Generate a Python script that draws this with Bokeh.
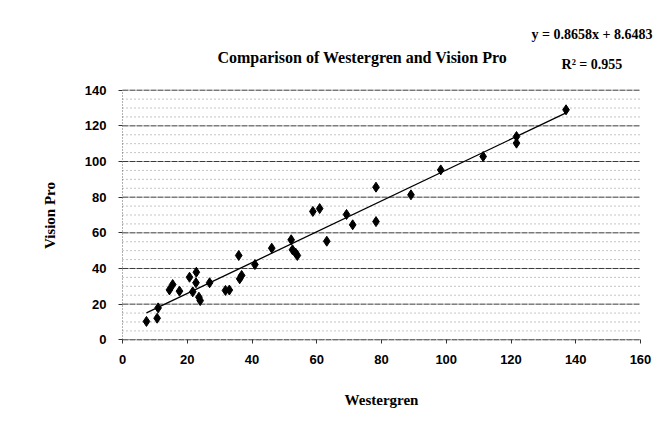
import math
from bokeh.plotting import figure
from bokeh.models import Label, Range1d, FixedTicker, ColumnDataSource
from bokeh.embed import file_html
from bokeh.resources import INLINE

# ---- data ----
westergren = [7.4, 10.7, 11.0, 14.5, 15.5, 17.6, 20.7, 22.8, 22.7, 21.7, 23.6, 24.0,
              26.9, 31.8, 33.0, 36.2, 36.8, 35.9, 40.9, 46.1, 52.1, 52.5, 53.5, 54.0,
              58.8, 60.9, 63.1, 69.2, 71.1, 78.3, 78.3, 89.1, 98.3, 111.4, 121.7,
              121.7, 137.0]
vision_pro = [10.3, 12.1, 17.9, 28.0, 31.0, 27.3, 35.1, 37.9, 32.0, 26.9, 23.9, 22.0,
              32.0, 27.7, 27.9, 34.2, 36.1, 47.3, 42.2, 51.4, 56.1, 50.5, 48.6, 47.3,
              72.0, 73.6, 55.3, 70.3, 64.5, 85.6, 66.3, 81.3, 95.3, 102.8, 114.0,
              110.3, 129.0]
slope = 0.8658
intercept = 8.6483
r_squared = 0.955
x_ticks = [0, 20, 40, 60, 80, 100, 120, 140, 160]
y_ticks = [0, 20, 40, 60, 80, 100, 120, 140]
y_minor = [v for v in range(0, 141, 5) if v % 20 != 0]

title_text = "Comparison of Westergren and Vision Pro"
x_label = "Westergren"
y_label = "Vision Pro"

SERIF = "Liberation Serif"
SANS = "Liberation Sans"

# ---- layout: the frame covers the whole canvas, axes sit at x=0 / y=0 ----
W, H = 656, 414
X0_PX, X160_PX = 122.0, 640.0          # where x=0 and x=160 fall
Y0_PX, Y140_PX = 339.3, 89.7           # where y=0 and y=140 fall
sx = (X160_PX - X0_PX) / 160.0
sy = (Y0_PX - Y140_PX) / 140.0

p = figure(width=W, height=H, output_backend="svg", toolbar_location=None,
           x_range=Range1d(-X0_PX / sx, (W - X0_PX) / sx),
           y_range=Range1d(-(H - Y0_PX) / sy, Y0_PX / sy),
           min_border_left=0, min_border_right=0, min_border_top=0,
           min_border_bottom=0)
p.outline_line_color = None
p.background_fill_color = "white"
p.border_fill_color = "white"
p.xgrid.visible = False
p.ygrid.visible = False

# axes
p.xaxis.ticker = FixedTicker(ticks=x_ticks)
p.yaxis.ticker = FixedTicker(ticks=y_ticks)
p.xaxis.fixed_location = 0
p.yaxis.fixed_location = 0
p.xaxis.bounds = (0, 160)
p.yaxis.bounds = (0, 140)
for ax in (p.xaxis[0], p.yaxis[0]):
    ax.major_label_text_font = SANS
    ax.major_label_text_font_style = "bold"
    ax.major_label_text_font_size = "13px"
    ax.major_label_text_color = "black"
    ax.major_tick_in = 0
    ax.major_tick_out = 4
    ax.minor_tick_in = 0
    ax.minor_tick_out = 0
    ax.major_tick_line_color = "#333333"
    ax.axis_line_color = "#666666"
    ax.axis_line_dash = "1 2"
p.xaxis.major_label_standoff = 11
p.yaxis.major_label_standoff = 12

# horizontal grid lines (major every 20, dotted minor every 5), limited to 0..160
p.segment(x0=[0] * len(y_minor), x1=[160] * len(y_minor), y0=y_minor, y1=y_minor,
          line_color="#8a8a8a", line_dash="1 3", line_width=1)
p.segment(x0=[0] * len(y_ticks), x1=[160] * len(y_ticks), y0=y_ticks, y1=y_ticks,
          line_color="#3a3a3a", line_dash="6 1", line_width=1)

# trendline from displayed equation
x0, x1 = min(westergren), max(westergren)
p.line([x0, x1], [slope * x0 + intercept, slope * x1 + intercept],
       line_color="black", line_width=1.3)

# points
src = ColumnDataSource(dict(x=westergren, y=vision_pro))
p.scatter("x", "y", source=src, marker="diamond", size=10,
          fill_color="black", line_color="black")

def label(x, y, text, size, angle=0.0):
    p.add_layout(Label(x=x, y=y, text=text, text_align="center",
                       text_baseline="middle", text_font=SERIF,
                       text_font_style="bold", text_font_size=size,
                       text_color="black", angle=angle))

label(74.1, 158.3, title_text, "16px")
label(145.0, 171.5, f"y = {slope}x + {intercept}", "14px")
label(145.0, 154.4, f"R\u00b2 = {r_squared}", "14px")
label(80, -34.0, x_label, "15px")
label(-22.5, 69.7, y_label, "15px", angle=math.pi / 2)

open("out.html", "w").write(file_html(p, INLINE))
